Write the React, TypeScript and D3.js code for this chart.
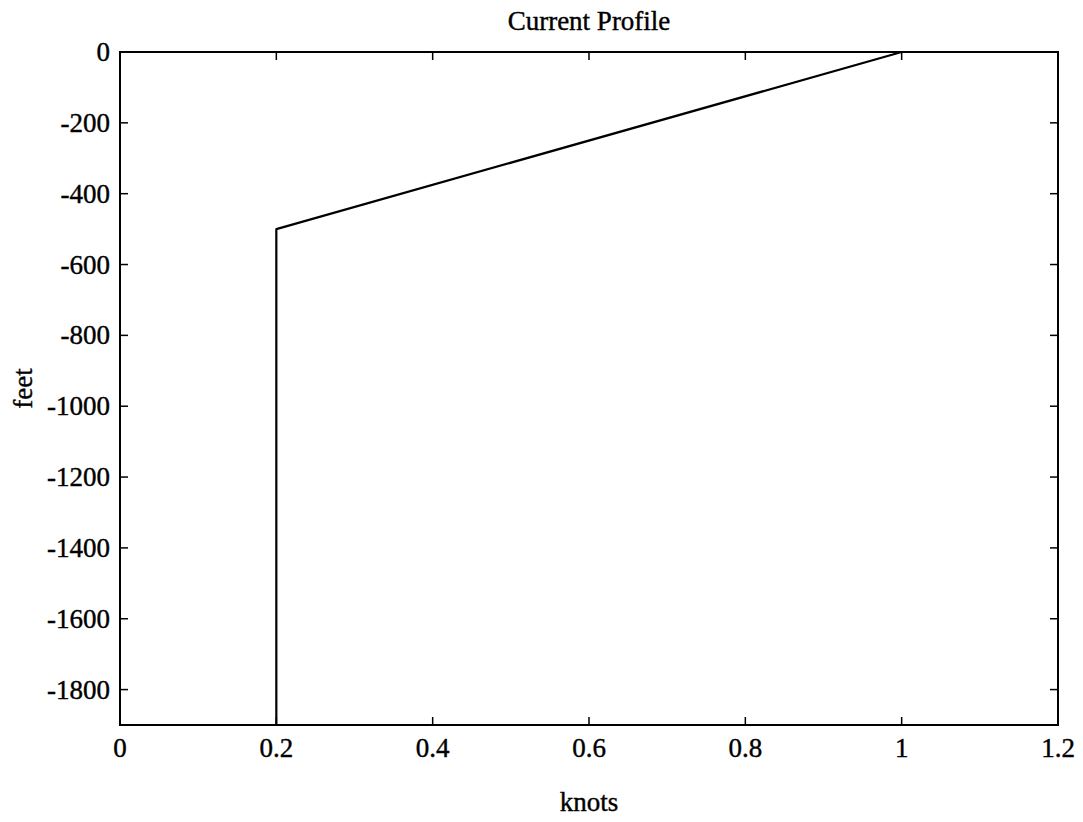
import React, { useEffect, useRef } from 'react';
import * as d3 from 'd3';

// current profile: speed (knots) against depth (feet)
const speedKnots = [1, 0.2, 0.2];
const depthFeet = [0, -500, -1900];
const xTicks = [0, 0.2, 0.4, 0.6, 0.8, 1, 1.2];
const yTicks = [0, -200, -400, -600, -800, -1000, -1200, -1400, -1600, -1800];

const W = 1083;
const H = 822;

const App: React.FC = () => {
  const svgRef = useRef<SVGSVGElement>(null);

  useEffect(() => {
    if (!svgRef.current) return;
    const svg = d3.select(svgRef.current);
    svg.selectAll('*').remove();

    const left = 120, right = 1058, top = 52, bottom = 725;
    const font = '"Liberation Serif", "Times New Roman", serif';
    const fs = '27px';

    const x = d3.scaleLinear().domain([0, 1.2]).range([left, right]);
    const y = d3.scaleLinear().domain([-1900, 0]).range([bottom, top]);

    svg.append('rect')
      .attr('width', W).attr('height', H).attr('fill', '#fff');

    // ticks, pointing inward on all four sides
    const tickLen = 8;
    const g = svg.append('g').attr('stroke', '#000').attr('stroke-width', 1.5);
    xTicks.forEach(t => {
      g.append('line').attr('x1', x(t)).attr('x2', x(t)).attr('y1', bottom).attr('y2', bottom - tickLen);
      g.append('line').attr('x1', x(t)).attr('x2', x(t)).attr('y1', top).attr('y2', top + tickLen);
    });
    yTicks.forEach(t => {
      g.append('line').attr('x1', left).attr('x2', left + tickLen).attr('y1', y(t)).attr('y2', y(t));
      g.append('line').attr('x1', right).attr('x2', right - tickLen).attr('y1', y(t)).attr('y2', y(t));
    });

    // axes box
    svg.append('rect')
      .attr('x', left).attr('y', top)
      .attr('width', right - left).attr('height', bottom - top)
      .attr('fill', 'none').attr('stroke', '#000').attr('stroke-width', 2);

    const txt = (sel: any) => sel
      .style('font-family', font).style('font-size', fs)
      .attr('fill', '#000').attr('stroke', '#000').attr('stroke-width', 0.4);

    // tick labels
    svg.append('g').selectAll('text').data(xTicks).join('text')
      .attr('x', d => x(d)).attr('y', bottom + 32)
      .attr('text-anchor', 'middle')
      .call(txt)
      .text(d => String(d));

    svg.append('g').selectAll('text').data(yTicks).join('text')
      .attr('x', left - 10).attr('y', d => y(d) + 9)
      .attr('text-anchor', 'end')
      .call(txt)
      .text(d => String(d));

    // profile line
    const line = d3.line<number>()
      .x((_, i) => x(speedKnots[i]))
      .y(d => y(d));
    svg.append('path')
      .datum(depthFeet)
      .attr('d', line)
      .attr('fill', 'none').attr('stroke', '#000').attr('stroke-width', 2.2)
      .attr('stroke-linejoin', 'round');

    // title and axis labels
    svg.append('text')
      .attr('x', (left + right) / 2).attr('y', 30)
      .attr('text-anchor', 'middle')
      .call(txt)
      .text('Current Profile');

    svg.append('text')
      .attr('x', (left + right) / 2).attr('y', 811)
      .attr('text-anchor', 'middle')
      .call(txt)
      .text('knots');

    svg.append('text')
      .attr('transform', `translate(32,${(top + bottom) / 2}) rotate(-90)`)
      .attr('text-anchor', 'middle')
      .call(txt)
      .text('feet');
  }, []);

  return (
    <svg ref={svgRef} width={W} height={H}
      style={{ position: 'absolute', left: 0, top: 0, display: 'block' }} />
  );
};

export default App;
